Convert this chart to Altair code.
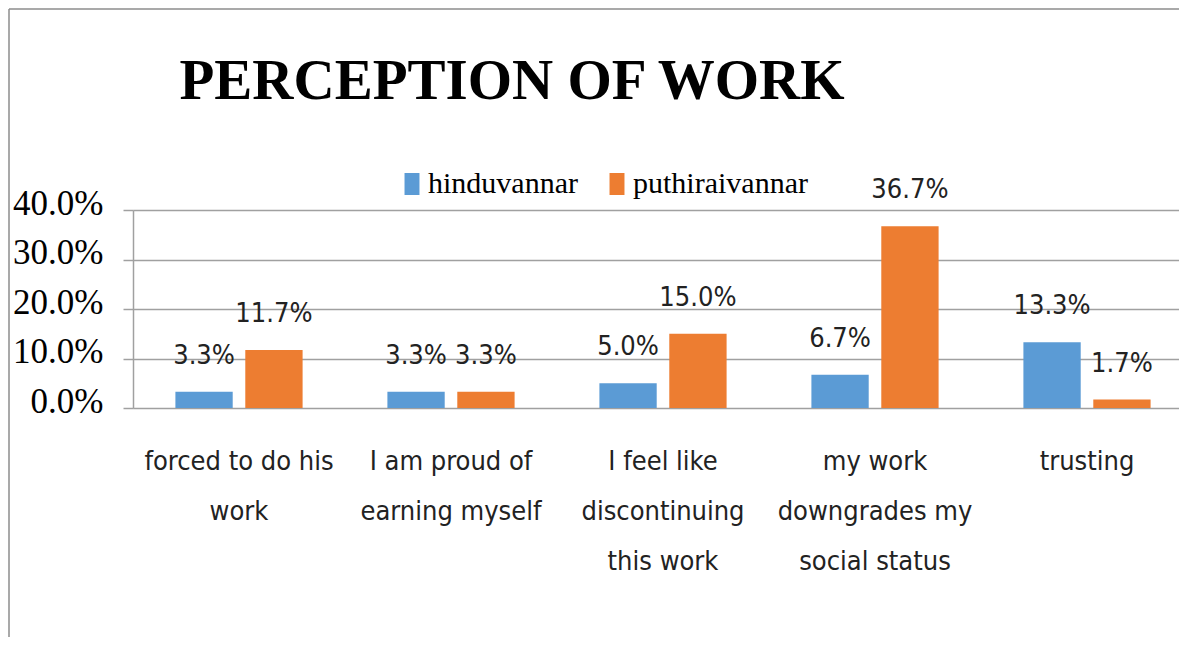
import altair as alt
import pandas as pd

# ---- data ----
categories = [
    "forced to do his\nwork",
    "I am proud of\nearning myself",
    "I feel like\ndiscontinuing\nthis work",
    "my work\ndowngrades my\nsocial status",
    "trusting",
]
series = ["hinduvannar", "puthiraivannar"]
hinduvannar = [0.033, 0.033, 0.050, 0.067, 0.133]
puthiraivannar = [0.117, 0.033, 0.150, 0.367, 0.017]
y_ticks = [0.0, 0.1, 0.2, 0.3, 0.4]
title_text = "PERCEPTION OF WORK"
colors = ["#5B9BD5", "#ED7D31"]

SANS = "'Liberation Sans Narrow', 'Arial Narrow', 'DejaVu Sans Condensed', 'Liberation Sans', sans-serif"
SERIF = "'Liberation Serif', 'Times New Roman', serif"
GRID = "#a0a0a0"

rows = []
for i, c in enumerate(categories):
    rows.append({"category": c, "series": series[0], "value": hinduvannar[i]})
    rows.append({"category": c, "series": series[1], "value": puthiraivannar[i]})
df = pd.DataFrame(rows)

x_enc = alt.X(
    "category:N",
    sort=categories,
    scale=alt.Scale(paddingInner=0.4, paddingOuter=0.2, range=[0, 1060]),
    axis=alt.Axis(
        title=None,
        labelExpr="split(datum.label, '\\n')",
        labelAngle=0,
        domain=False,
        ticks=False,
        labelFont=SANS,
        labelFontSize=27,
        labelLineHeight=50,
        labelPadding=40,
        labelColor="#222222",
        labelLimit=0,
    ),
)
xo_enc = alt.XOffset("series:N", sort=series, scale=alt.Scale(paddingInner=0.18))
y_enc = alt.Y(
    "value:Q",
    scale=alt.Scale(domain=[0, 0.4]),
    axis=alt.Axis(
        title=None,
        values=y_ticks,
        format=".1%",
        labelFont=SERIF,
        labelFontSize=35,
        labelColor="black",
        labelPadding=20,
        labelOffset=-7,
        tickSize=10,
        tickColor=GRID,
        tickWidth=1.5,
        gridColor=GRID,
        gridWidth=1.5,
        domainColor=GRID,
        domainWidth=1.5,
    ),
)
color_enc = alt.Color(
    "series:N",
    sort=series,
    scale=alt.Scale(domain=series, range=colors),
    legend=alt.Legend(
        title=None,
        orient="none",
        legendX=264,
        legendY=-41,
        direction="horizontal",
        labelFont=SERIF,
        labelFontSize=30,
        labelColor="black",
        labelLimit=0,
        symbolType="M-0.68,-1H0.68V1H-0.68Z",
        symbolSize=484,
        symbolStrokeWidth=0,
        labelOffset=1,
        columnPadding=24,
        padding=0,
    ),
)

bars = alt.Chart(df).mark_bar().encode(x=x_enc, xOffset=xo_enc, y=y_enc, color=color_enc)
labels = alt.Chart(df).mark_text(
    baseline="alphabetic", dy=-28, font=SANS, fontSize=27, color="#222222"
).encode(x=x_enc, xOffset=xo_enc, y=y_enc, text=alt.Text("value:Q", format=".1%"))

title = alt.Chart(pd.DataFrame({"t": [title_text]})).mark_text(
    font=SERIF, fontSize=57, fontWeight="bold", align="center", baseline="alphabetic", color="black"
).encode(text="t:N", x=alt.value(379), y=alt.value(-111))

frame = pd.DataFrame({"a": [0]})
border_v = alt.Chart(frame).mark_rule(color="#8c8c8c", strokeWidth=1.5).encode(
    x=alt.value(-124), y=alt.value(-201), y2=alt.value(430)
)
border_h = alt.Chart(frame).mark_rule(color="#8c8c8c", strokeWidth=1.5).encode(
    x=alt.value(-124), x2=alt.value(1060), y=alt.value(-201)
)

chart = (
    alt.layer(bars, labels, title, border_v, border_h)
    .properties(
        width=1046,
        height=198,
        autosize=alt.AutoSizeParams(type="none"),
        padding={"left": 125, "top": 202, "right": 0, "bottom": 229},
    )
    .configure_view(stroke=None)
    .configure(background="white")
)

chart.save("out.html", embed_options={"renderer": "svg", "actions": False})
